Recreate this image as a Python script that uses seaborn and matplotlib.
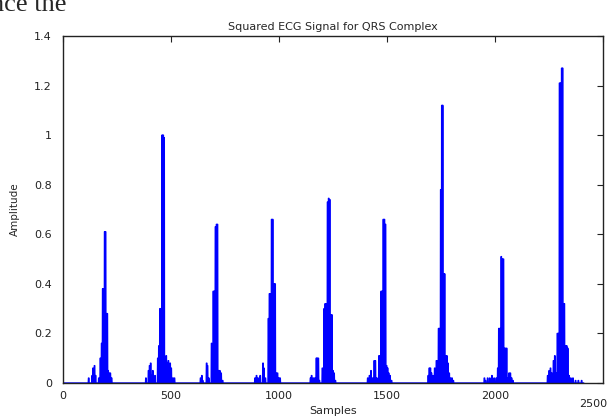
import numpy as np
import pandas as pd
import matplotlib
matplotlib.use("Agg")
import matplotlib.pyplot as plt
import matplotlib.transforms as mtransforms
import seaborn as sns

# ---- data (sample index, squared amplitude) ----
n_samples = 2412
beat1_idx = [118, 134, 138, 145, 150, 165, 172, 178, 183, 187, 192, 196, 200, 204, 208, 212, 218, 224]
beat1_val = [0.02, 0.03, 0.06, 0.07, 0.03, 0.02, 0.10, 0.16, 0.38, 0.38, 0.61, 0.61, 0.28, 0.28, 0.05, 0.04, 0.04, 0.02]
beat2_idx = [383, 395, 400, 405, 410, 415, 425, 438, 443, 448, 453, 458, 463, 467, 472, 477, 482, 487, 495, 500, 508, 515]
beat2_val = [0.02, 0.05, 0.07, 0.08, 0.03, 0.05, 0.03, 0.10, 0.15, 0.30, 0.30, 1.00, 1.00, 0.99, 0.10, 0.11, 0.08, 0.09, 0.08, 0.06, 0.02, 0.02]
beat3_idx = [636, 642, 646, 664, 668, 674, 687, 695, 700, 705, 710, 714, 719, 725, 731, 738]
beat3_val = [0.02, 0.03, 0.01, 0.08, 0.07, 0.02, 0.16, 0.37, 0.37, 0.63, 0.64, 0.64, 0.05, 0.05, 0.04, 0.01]
beat4_idx = [888, 895, 902, 912, 925, 929, 936, 950, 955, 960, 965, 970, 976, 981, 986, 992, 998, 1004]
beat4_val = [0.02, 0.03, 0.02, 0.03, 0.08, 0.06, 0.02, 0.26, 0.36, 0.36, 0.66, 0.66, 0.40, 0.40, 0.04, 0.04, 0.02, 0.02]
beat5_idx = [1145, 1150, 1158, 1165, 1172, 1176, 1181, 1186, 1200, 1208, 1213, 1218, 1224, 1229, 1234, 1239, 1244, 1249, 1254, 1260]
beat5_val = [0.02, 0.03, 0.02, 0.02, 0.10, 0.10, 0.10, 0.01, 0.06, 0.30, 0.32, 0.32, 0.73, 0.745, 0.74, 0.275, 0.275, 0.05, 0.04, 0.01]
beat6_idx = [1410, 1418, 1425, 1432, 1440, 1445, 1452, 1462, 1467, 1472, 1477, 1482, 1487, 1492, 1497, 1502, 1507, 1513, 1520]
beat6_val = [0.02, 0.03, 0.05, 0.02, 0.09, 0.09, 0.02, 0.11, 0.11, 0.37, 0.37, 0.66, 0.66, 0.64, 0.07, 0.06, 0.04, 0.03, 0.01]
beat7_idx = [1690, 1695, 1700, 1705, 1712, 1720, 1728, 1733, 1738, 1743, 1748, 1753, 1757, 1762, 1766, 1771, 1776, 1781, 1787, 1793, 1800, 1806]
beat7_val = [0.03, 0.06, 0.06, 0.04, 0.03, 0.06, 0.09, 0.09, 0.22, 0.22, 0.78, 1.12, 1.12, 0.44, 0.44, 0.11, 0.11, 0.08, 0.04, 0.02, 0.02, 0.01]
beat8_idx = [1950, 1955, 1965, 1975, 1985, 1995, 2005, 2012, 2017, 2022, 2028, 2033, 2038, 2043, 2048, 2053, 2058, 2064, 2070, 2076, 2082]
beat8_val = [0.02, 0.01, 0.02, 0.02, 0.03, 0.02, 0.02, 0.06, 0.22, 0.22, 0.51, 0.50, 0.50, 0.14, 0.14, 0.14, 0.02, 0.04, 0.04, 0.02, 0.01]
beat9_idx = [2243, 2250, 2256, 2262, 2270, 2276, 2282, 2288, 2293, 2298, 2303, 2308, 2312, 2316, 2320, 2326, 2331, 2336, 2342, 2350, 2360, 2372, 2385, 2400]
beat9_val = [0.03, 0.05, 0.06, 0.04, 0.09, 0.11, 0.04, 0.20, 0.20, 1.21, 1.21, 1.27, 1.27, 0.32, 0.32, 0.15, 0.15, 0.14, 0.03, 0.02, 0.02, 0.01, 0.01, 0.01]

x_ticks = [0, 500, 1000, 1500, 2000, 2500]
y_ticks = [0, 0.2, 0.4, 0.6, 0.8, 1.0, 1.2, 1.4]
y_tick_labels = ["0", "0.2", "0.4", "0.6", "0.8", "1", "1.2", "1.4"]

# ---- build the sampled signal (zeros except the read values) ----
sig = np.zeros(n_samples)
for idx, val in [(beat1_idx, beat1_val), (beat2_idx, beat2_val), (beat3_idx, beat3_val),
                 (beat4_idx, beat4_val), (beat5_idx, beat5_val), (beat6_idx, beat6_val),
                 (beat7_idx, beat7_val), (beat8_idx, beat8_val), (beat9_idx, beat9_val)]:
    for i, v in zip(idx, val):
        sig[i:i + 3] = v
df = pd.DataFrame({"Samples": np.arange(n_samples), "Amplitude": sig})

sns.set_style("white")
plt.rcParams["font.family"] = ["DejaVu Sans"]

fig = plt.figure(figsize=(6.09, 4.16), dpi=100)
ax = fig.add_axes([63 / 609, 1 - 383 / 416, (603 - 63) / 609, (383 - 36) / 416])

sns.lineplot(data=df, x="Samples", y="Amplitude", ax=ax, color="#0000ff",
             linewidth=1.0, estimator=None, sort=False)

ax.set_xlim(0, 2500)
ax.set_ylim(0, 1.4)
ax.set_xticks(x_ticks)
ax.set_xticklabels([str(t) for t in x_ticks])
ax.set_yticks(y_ticks)
ax.set_yticklabels(y_tick_labels)
ax.tick_params(direction="in", top=True, right=True, length=4, width=0.8,
               labelsize=8, colors="#222222")
ax.tick_params(axis="x", pad=6)
ax.tick_params(axis="y", pad=8)
for s in ax.spines.values():
    s.set_color("#222222")
    s.set_linewidth(1.0)

# MATLAB-style: last x tick label sits lower and pulled inside the figure
last = ax.get_xticklabels()[-1]
last.set_transform(last.get_transform() +
                   mtransforms.ScaledTranslation(-10 / 100, -8 / 100, fig.dpi_scale_trans))

ax.set_xlabel("Samples", fontsize=8)
ax.xaxis.set_label_coords(0.5, -0.066)
ax.set_ylabel("Amplitude", fontsize=7.5)
ax.yaxis.set_label_coords(-0.08, 0.5)
ax.set_title("Squared ECG Signal for QRS Complex", fontsize=8, pad=4)

fig.text(-0.014, 1 - 11 / 416, "nce the", fontsize=19,
         family=["Liberation Serif", "DejaVu Serif"], ha="left", va="baseline")

fig.savefig("out.png", dpi=100)
